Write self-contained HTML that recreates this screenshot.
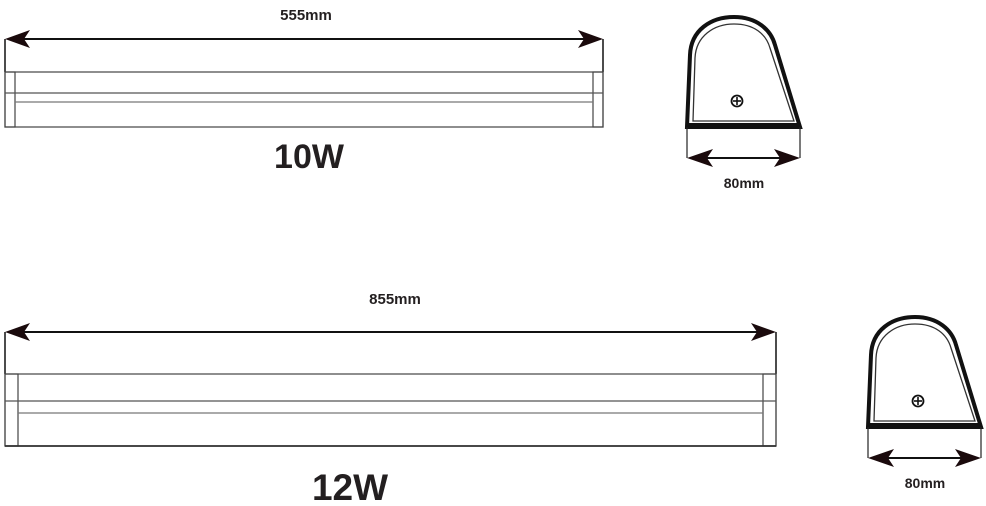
<!DOCTYPE html>
<html><head><meta charset="utf-8"><style>
html,body{margin:0;padding:0;background:#fff;}
svg{display:block;}
text{font-family:"Liberation Sans",sans-serif;font-weight:bold;fill:#231f20;}
</style></head><body>
<svg width="986" height="506" viewBox="0 0 986 506" xmlns="http://www.w3.org/2000/svg">
<defs>
<g id="prof">
  <path d="M687,127 L690,55 C691,30 711,17 734,17 C757,17 771,30 775,45 L800,127 Z" fill="none" stroke="#111" stroke-width="4"/>
  <path d="M693,121 L695,58 C696,36 714,24 734,24 C754,24 766,34 770,48 L794,121 Z" fill="none" stroke="#333" stroke-width="1.3"/>
  <line x1="687" y1="125" x2="800" y2="125" stroke="#111" stroke-width="4"/>
  <line x1="687" y1="127" x2="687" y2="158" stroke="#222" stroke-width="1.2"/>
  <line x1="800" y1="127" x2="800" y2="158" stroke="#222" stroke-width="1.2"/>
  <line x1="700" y1="158" x2="788" y2="158" stroke="#111" stroke-width="2"/>
  <polygon points="687,158 713,149 707,158 713,167" fill="#1a0a0c"/>
  <polygon points="800,158 774,149 780,158 774,167" fill="#1a0a0c"/>
  <circle cx="737" cy="101" r="5.5" fill="none" stroke="#111" stroke-width="1.8"/>
  <line x1="733" y1="101" x2="741" y2="101" stroke="#111" stroke-width="1.6"/>
  <line x1="737" y1="97" x2="737" y2="105" stroke="#111" stroke-width="1.6"/>
  <text x="744" y="188" font-size="14" text-anchor="middle">80mm</text>
</g>
</defs>

<line x1="20" y1="39" x2="590" y2="39" stroke="#111" stroke-width="2"/>
<polygon points="5,39 30,30 24,39 30,48" fill="#1a0a0c"/>
<polygon points="603,39 578,30 584,39 578,48" fill="#1a0a0c"/>
<line x1="5" y1="39" x2="5" y2="72" stroke="#111" stroke-width="1.5"/>
<line x1="603" y1="39" x2="603" y2="72" stroke="#111" stroke-width="1.5"/>
<rect x="5" y="72" width="598" height="55" fill="none" stroke="#444" stroke-width="1.2"/>
<rect x="5" y="72" width="10" height="55" fill="none" stroke="#444" stroke-width="1.2"/>
<rect x="593" y="72" width="10" height="55" fill="none" stroke="#444" stroke-width="1.2"/>
<line x1="5" y1="93" x2="603" y2="93" stroke="#555" stroke-width="1.2"/>
<line x1="15" y1="102" x2="593" y2="102" stroke="#777" stroke-width="1.2"/>
<text x="306" y="20" font-size="15" text-anchor="middle">555mm</text>
<text x="309" y="168" font-size="34" text-anchor="middle">10W</text>

<use href="#prof"/>

<line x1="20" y1="332" x2="765" y2="332" stroke="#111" stroke-width="2"/>
<polygon points="5,332 30,323 24,332 30,341" fill="#1a0a0c"/>
<polygon points="776,332 751,323 757,332 751,341" fill="#1a0a0c"/>
<line x1="5" y1="332" x2="5" y2="374" stroke="#111" stroke-width="1.5"/>
<line x1="776" y1="332" x2="776" y2="374" stroke="#111" stroke-width="1.5"/>
<rect x="5" y="374" width="771" height="72" fill="none" stroke="#444" stroke-width="1.2"/>
<rect x="5" y="374" width="13" height="72" fill="none" stroke="#444" stroke-width="1.2"/>
<rect x="763" y="374" width="13" height="72" fill="none" stroke="#444" stroke-width="1.2"/>
<line x1="5" y1="401" x2="776" y2="401" stroke="#555" stroke-width="1.2"/>
<line x1="18" y1="413" x2="763" y2="413" stroke="#777" stroke-width="1.2"/>
<line x1="5" y1="446" x2="776" y2="446" stroke="#333" stroke-width="1.8"/>
<text x="395" y="304" font-size="15" text-anchor="middle">855mm</text>
<text x="350" y="500" font-size="37" text-anchor="middle">12W</text>

<use href="#prof" transform="translate(181,300)"/>
</svg>
</body></html>
